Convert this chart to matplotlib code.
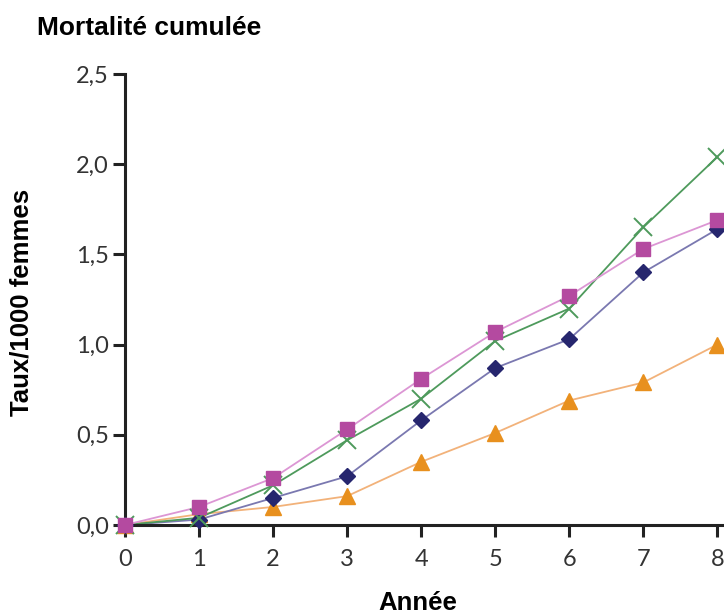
import matplotlib
matplotlib.use("Agg")
import matplotlib.pyplot as plt
from matplotlib.ticker import FuncFormatter

# values
annees = [0, 1, 2, 3, 4, 5, 6, 7, 8]
serie_carre = [0.0, 0.10, 0.26, 0.53, 0.81, 1.07, 1.27, 1.53, 1.69]
serie_croix = [0.0, 0.04, 0.22, 0.47, 0.70, 1.02, 1.20, 1.65, 2.04]
serie_losange = [0.0, 0.03, 0.15, 0.27, 0.58, 0.87, 1.03, 1.40, 1.64]
serie_triangle = [0.0, 0.06, 0.10, 0.16, 0.35, 0.51, 0.69, 0.79, 1.00]
y_ticks = [0.0, 0.5, 1.0, 1.5, 2.0, 2.5]

fig = plt.figure(figsize=(7.24, 6.15), dpi=100)
ax = fig.add_axes([125 / 724, 90 / 615, 599 / 724, 451 / 615])

# (values, line colour, marker colour, marker, size)
styles = [
    (serie_triangle, "#f2b27a", "#e8901e", "^", 11),
    (serie_losange, "#7a78b0", "#26266e", "D", 8),
    (serie_croix, "#4e9a5c", "#4e9a5c", "x", 13),
    (serie_carre, "#dc96d4", "#b44aa0", "s", 10.5),
]
for vals, lc, mc, mk, ms in styles:
    ax.plot(annees, vals, color=lc, linewidth=1.3, zorder=2, clip_on=False)
    if mk == "x":
        ax.plot(annees, vals, linestyle="none", marker=mk, markersize=ms,
                markeredgecolor=mc, markeredgewidth=1.4, zorder=3, clip_on=False)
    else:
        ax.plot(annees, vals, linestyle="none", marker=mk, markersize=ms,
                markerfacecolor=mc, markeredgecolor=mc, zorder=3, clip_on=False)

ax.set_xlim(0, 8.09)
ax.set_ylim(0, 2.5)
ax.set_xticks(annees)
ax.set_yticks(y_ticks)
ax.yaxis.set_major_formatter(FuncFormatter(lambda v, p: f"{v:.1f}".replace(".", ",")))

for s in ["top", "right"]:
    ax.spines[s].set_visible(False)
for s in ["left", "bottom"]:
    ax.spines[s].set_linewidth(2.2)
    ax.spines[s].set_color("#222222")
ax.tick_params(direction="out", length=8.5, width=2.2, color="#222222",
               labelsize=17, labelcolor="#333333")
ax.tick_params(axis="x", pad=9)
ax.tick_params(axis="y", pad=3)
for lab in ax.get_xticklabels() + ax.get_yticklabels():
    lab.set_family("Lato")

fig.text(37 / 724, 1 - 28 / 615, "Mortalité cumulée", fontsize=19, fontweight="bold",
         family="Liberation Sans", va="center", ha="left")
fig.text(22 / 724, 1 - 302 / 615, "Taux/1000 femmes", fontsize=18.5, fontweight="bold",
         family="Liberation Sans", rotation=90, va="center", ha="center")
fig.text(418 / 724, 1 - 603 / 615, "Année", fontsize=18.5, fontweight="bold",
         family="Liberation Sans", va="center", ha="center")

fig.savefig("out.png", dpi=100)
